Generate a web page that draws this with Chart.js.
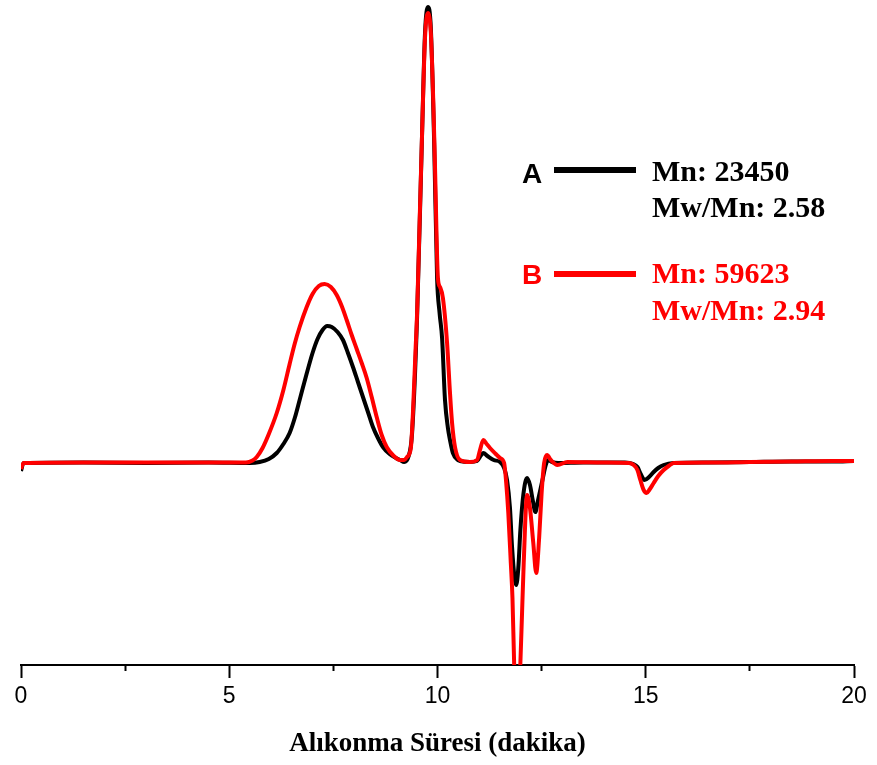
<!DOCTYPE html>
<html>
<head>
<meta charset="utf-8">
<title>GPC</title>
<script src="https://cdn.jsdelivr.net/npm/chart.js@4"></script>
<style>
  html, body { margin: 0; padding: 0; background: #fff; }
  canvas { display: block; }
</style>
</head>
<body>
<canvas id="gpcChart" width="877" height="765"></canvas>
<script>
// retention time (min) and detector signal for each sample
const timeA = [0, 0.06, 1.5, 3.0, 4.5, 5.5, 5.73, 5.95, 6.14, 6.30, 6.45, 6.58, 6.69, 6.85, 7.00, 7.12, 7.24, 7.35, 7.46, 7.60, 7.73, 7.85, 7.97, 8.09, 8.21, 8.33, 8.45, 8.57, 8.69, 8.85, 9.00, 9.10, 9.20, 9.30, 9.39, 9.51, 9.63, 9.70, 9.77, 9.84, 9.92, 9.99, 10.05, 10.11, 10.18, 10.25, 10.30, 10.37, 10.49, 10.54, 10.78, 10.95, 11.05, 11.10, 11.20, 11.35, 11.50, 11.60, 11.67, 11.74, 11.79, 11.85, 11.89, 11.94, 11.99, 12.06, 12.15, 12.22, 12.29, 12.35, 12.41, 12.52, 12.60, 12.66, 12.75, 12.90, 13.5, 14.0, 14.5, 14.70, 14.80, 14.88, 14.97, 15.08, 15.19, 15.30, 15.43, 15.67, 16.5, 17.5, 18.5, 19.5, 20];
const signalA = [-0.8, 0, 0.05, 0, 0.05, 0, 0.1, 0.4, 1.0, 1.9, 3.0, 4.6, 6.3, 8.8, 11.0, 12.4, 13.3, 13.7, 13.6, 13.1, 12.3, 11.0, 9.6, 8.1, 6.6, 5.1, 3.6, 2.5, 1.6, 0.9, 0.5, 0.3, 0.1, 0.6, 3.0, 14.6, 33.0, 43.0, 45.6, 43.5, 32.0, 18.5, 15.0, 12.5, 6.3, 3.5, 2.3, 1.0, 0.3, 0.2, 0.1, 0.2, 0.8, 1.0, 0.7, 0.3, 0.1, -0.5, -1.7, -4.5, -8.4, -11.5, -12.2, -10.5, -6.7, -3.2, -1.5, -2.2, -3.8, -4.9, -3.8, -1.7, -0.2, 0.3, 0.1, 0, 0.05, 0.05, 0.05, -0.1, -0.4, -1.1, -1.7, -1.4, -0.9, -0.5, -0.2, 0, 0.05, 0.1, 0.15, 0.15, 0.2];

const timeB = [0, 0.06, 1.5, 3.0, 4.5, 5.4, 5.56, 5.66, 5.80, 5.95, 6.14, 6.30, 6.45, 6.57, 6.69, 6.85, 7.00, 7.15, 7.29, 7.44, 7.58, 7.70, 7.82, 7.94, 8.06, 8.18, 8.30, 8.42, 8.54, 8.66, 8.78, 8.95, 9.10, 9.20, 9.27, 9.36, 9.41, 9.47, 9.51, 9.57, 9.63, 9.70, 9.77, 9.84, 9.90, 9.94, 10.01, 10.06, 10.13, 10.23, 10.30, 10.35, 10.42, 10.54, 10.78, 10.95, 11.02, 11.10, 11.18, 11.26, 11.40, 11.50, 11.60, 11.65, 11.70, 11.76, 11.80, 11.84, 11.915, 11.99, 12.03, 12.07, 12.15, 12.22, 12.30, 12.37, 12.44, 12.50, 12.56, 12.63, 12.72, 12.88, 13.12, 14.0, 14.60, 14.71, 14.80, 14.87, 14.95, 15.02, 15.10, 15.19, 15.30, 15.43, 15.55, 15.67, 16.5, 17.5, 18.5, 19.5, 20];
const signalB = [-0.6, 0, 0.05, 0.05, 0.05, 0.05, 0.25, 0.6, 1.5, 2.9, 5.0, 7.3, 9.9, 11.9, 13.6, 15.5, 16.9, 17.7, 17.9, 17.6, 16.8, 15.7, 14.3, 12.8, 11.4, 10.0, 8.5, 6.6, 4.6, 2.8, 1.6, 0.7, 0.3, 0.3, 0.6, 1.5, 5.0, 11.0, 15.0, 24.0, 33.0, 42.5, 45.0, 43.0, 36.0, 29.6, 18.5, 17.6, 16.5, 12.0, 7.0, 4.0, 1.6, 0.3, 0.1, 0.3, 1.3, 2.3, 1.9, 1.5, 0.9, 0.5, 0.0, -2.0, -5.0, -10.0, -13.5, -20.0, -28.0, -20.0, -15.0, -10.0, -3.2, -4.5, -8.0, -11.0, -7.5, -3.0, 0.0, 0.8, 0.3, -0.2, 0.1, 0.05, 0, -0.2, -0.7, -1.7, -2.7, -3.0, -2.6, -2.0, -1.3, -0.7, -0.3, 0, 0.05, 0.1, 0.15, 0.2, 0.2];

const sampleNames = ["A", "B"];
const mnValues = ["23450", "59623"];
const pdiValues = ["2.58", "2.94"];
const sampleColors = ["#000000", "#ff0000"];

const toPoints = (xs, ys) => xs.map((x, i) => ({ x, y: ys[i] }));

// legend block on the right: letter, line sample, Mn and Mw/Mn
const sampleLegend = {
  id: "sampleLegend",
  afterDraw(chart) {
    const ctx = chart.ctx;
    const rows = [
      { letterY: 183, lineY: 170, mnY: 181, pdiY: 217 },
      { letterY: 284, lineY: 274, mnY: 283, pdiY: 320 },
    ];
    ctx.save();
    rows.forEach((row, i) => {
      ctx.fillStyle = sampleColors[i];
      ctx.strokeStyle = sampleColors[i];
      ctx.textBaseline = "alphabetic";
      ctx.textAlign = "left";
      ctx.font = "bold 28px 'Liberation Sans', Arial, sans-serif";
      ctx.fillText(sampleNames[i], 522, row.letterY);
      ctx.lineWidth = 6;
      ctx.beginPath();
      ctx.moveTo(554, row.lineY);
      ctx.lineTo(636, row.lineY);
      ctx.stroke();
      ctx.font = "bold 30px 'Liberation Serif', 'Times New Roman', serif";
      ctx.fillText("Mn: " + mnValues[i], 652, row.mnY);
      ctx.fillText("Mw/Mn: " + pdiValues[i], 652, row.pdiY);
    });
    ctx.restore();
  },
};

new Chart("gpcChart", {
  type: "line",
  data: {
    datasets: [
      {
        label: sampleNames[0],
        data: toPoints(timeA, signalA),
        borderColor: sampleColors[0],
        borderWidth: 4,
        pointRadius: 0,
        cubicInterpolationMode: "monotone",
        order: 2,
      },
      {
        // B sits on top of A
        label: sampleNames[1],
        data: toPoints(timeB, signalB),
        borderColor: sampleColors[1],
        borderWidth: 4,
        pointRadius: 0,
        cubicInterpolationMode: "monotone",
        order: 1,
      },
    ],
  },
  options: {
    responsive: false,
    animation: false,
    layout: { padding: { left: 21, right: 23, top: 0, bottom: 0 } },
    plugins: {
      legend: { display: false },
      tooltip: { enabled: false },
    },
    scales: {
      x: {
        type: "linear",
        min: 0,
        max: 20,
        border: { display: true, color: "#000", width: 2 },
        grid: {
          drawOnChartArea: false,
          color: "#000",
          tickColor: "#000",
          tickWidth: 2,
          tickLength: 13,
          tickBorderDash: (c) => (c.tick && c.tick.value % 5 !== 0 ? [5, 40] : []),
        },
        ticks: {
          stepSize: 2.5,
          padding: 5,
          color: "#000",
          font: { family: "'Liberation Sans', Arial, sans-serif", size: 23 },
          maxRotation: 0,
          autoSkip: false,
          callback: (v) => (v % 5 === 0 ? v : ""),
        },
        title: {
          display: true,
          text: "Alıkonma Süresi (dakika)",
          color: "#000",
          font: { family: "'Liberation Serif', 'Times New Roman', serif", size: 27, weight: "bold" },
          padding: { top: 12, bottom: 5 },
        },
      },
      y: {
        display: false,
        min: -20.2,
        max: 46.3,
      },
    },
  },
  plugins: [sampleLegend],
});
</script>
</body>
</html>
